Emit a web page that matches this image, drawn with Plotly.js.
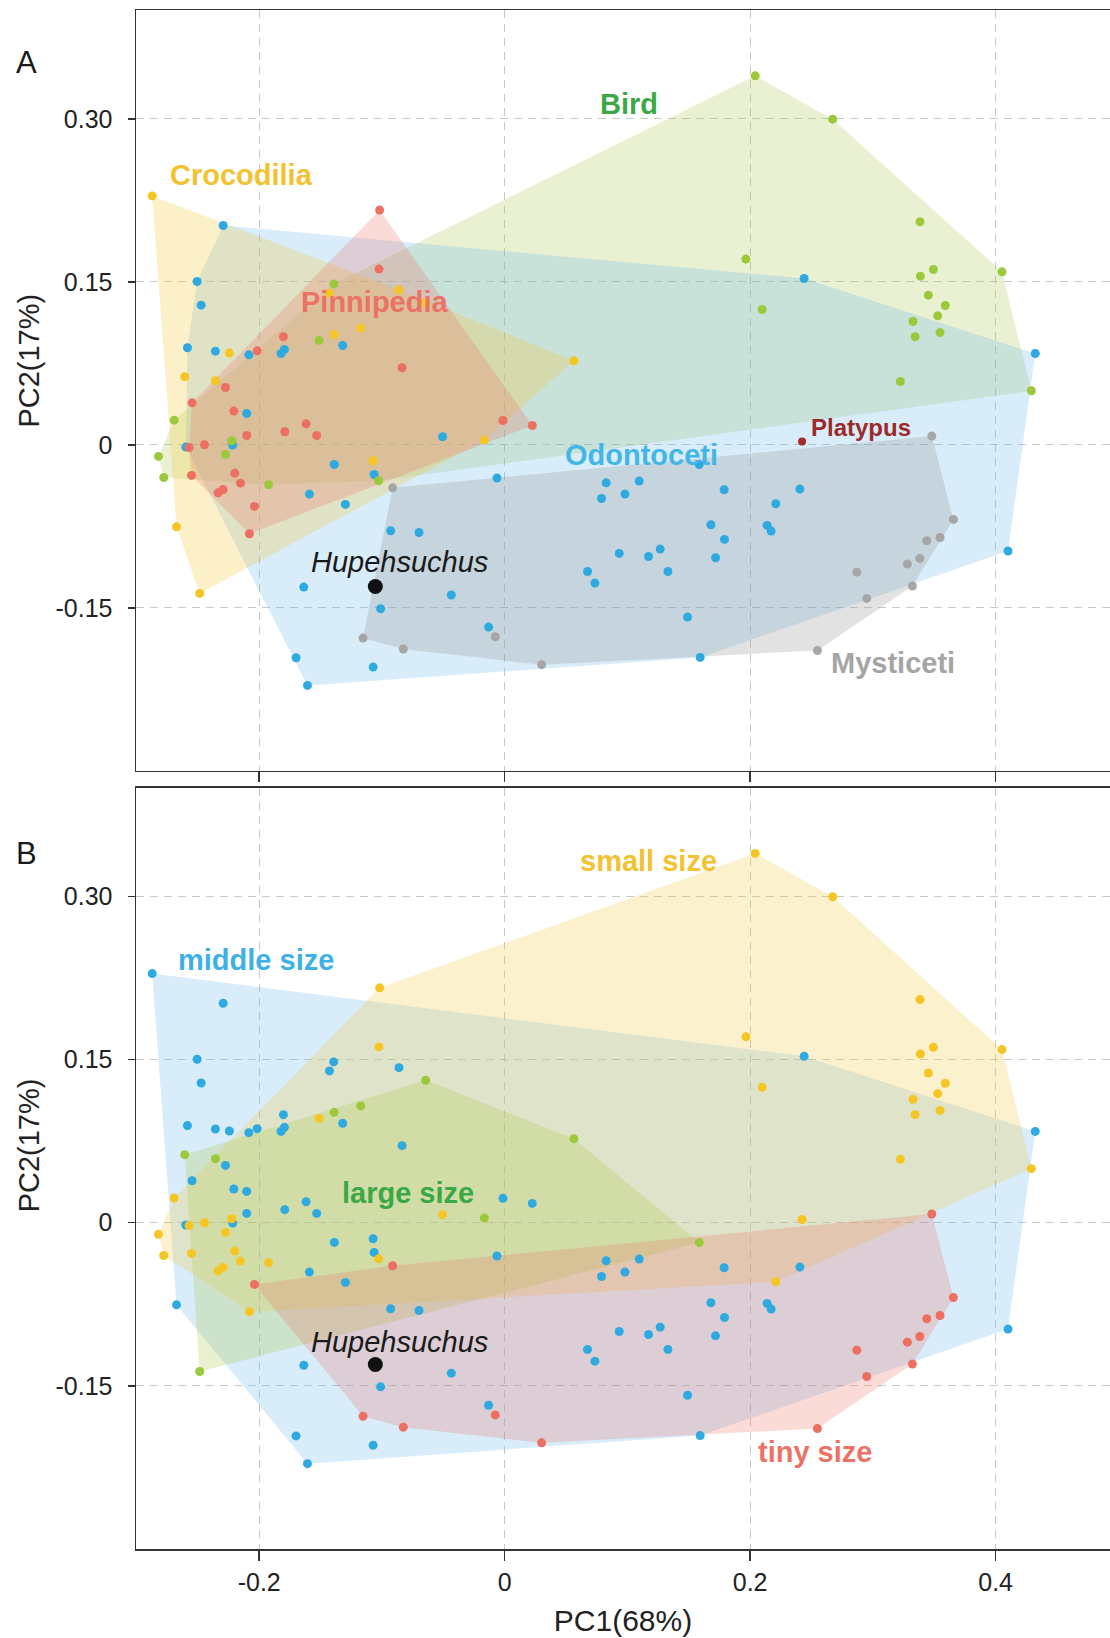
<!DOCTYPE html>
<html><head><meta charset="utf-8">
<script src="https://cdn.plot.ly/plotly-3.0.1.min.js"></script>
<style>html,body{margin:0;padding:0;background:#fff}</style>
</head><body><div id="chart" style="width:1110px;height:1638px"></div>
<script>
// PC scores of each specimen
const pc1 = [
-0.2872,-0.2294,-0.1019,-0.1024,-0.1393,-0.1428,-0.0861,-0.0644,-0.2506,-0.2473,
-0.1803,-0.1512,-0.1390,-0.1173,-0.1320,-0.2585,-0.2357,-0.2243,-0.2085,-0.2017,
-0.1822,-0.1795,-0.0836,-0.2607,-0.2357,-0.2275,0.2041,0.2673,0.1965,0.2440,
0.2098,0.0564,0.3384,0.3493,0.3387,0.4052,0.3452,0.3590,0.3528,0.3327,
0.3547,0.3344,0.4323,0.3224,0.4291,-0.2547,-0.2207,-0.2102,-0.2693,-0.1792,
-0.1618,-0.1532,-0.2102,-0.2598,-0.2571,-0.2446,-0.2224,-0.2216,-0.2821,-0.2275,
-0.2778,-0.2552,-0.2199,-0.2153,-0.2335,-0.2294,-0.1923,-0.2039,-0.2080,-0.2674,
-0.2485,-0.1388,-0.1072,-0.1064,-0.1027,-0.0913,-0.1591,-0.1298,-0.0506,-0.0166,
-0.0014,-0.0063,-0.0929,-0.0698,-0.1637,-0.0435,-0.1011,-0.0131,-0.1154,-0.0077,
-0.0826,-0.1700,-0.1072,-0.1607,0.0225,0.2423,0.1585,0.0827,0.1096,0.0789,
0.0980,0.1788,0.2405,0.2209,0.1680,0.2138,0.2171,0.1791,0.0933,0.1172,
0.1267,0.1718,0.0675,0.1330,0.0735,0.1490,0.1593,0.0301,0.2548,0.3480,
0.3656,0.3547,0.3439,0.3382,0.3281,0.2869,0.3322,0.2950,0.4101];
const pc2 = [
0.2291,0.2018,0.2160,0.1617,0.1479,0.1396,0.1426,0.1310,0.1503,0.1285,
0.0994,0.0960,0.1015,0.1074,0.0914,0.0893,0.0862,0.0844,0.0828,0.0865,
0.0840,0.0877,0.0709,0.0626,0.0589,0.0527,0.3396,0.2997,0.1709,0.1531,
0.1245,0.0773,0.2052,0.1613,0.1552,0.1592,0.1377,0.1282,0.1187,0.1135,
0.1033,0.0994,0.0840,0.0583,0.0497,0.0386,0.0310,0.0288,0.0227,0.0120,
0.0193,0.0086,0.0086,-0.0021,-0.0025,0.0000,0.0037,-0.0003,-0.0107,-0.0089,
-0.0301,-0.0282,-0.0261,-0.0353,-0.0442,-0.0411,-0.0368,-0.0567,-0.0819,-0.0755,
-0.1368,-0.0181,-0.0147,-0.0273,-0.0331,-0.0396,-0.0454,-0.0549,0.0074,0.0043,
0.0224,-0.0306,-0.0791,-0.0807,-0.1310,-0.1383,-0.1509,-0.1678,-0.1779,-0.1767,
-0.1880,-0.1960,-0.2046,-0.2215,0.0178,0.0030,-0.0181,-0.0350,-0.0334,-0.0494,
-0.0454,-0.0414,-0.0408,-0.0543,-0.0736,-0.0742,-0.0794,-0.0871,-0.1000,-0.1028,
-0.0960,-0.1040,-0.1166,-0.1166,-0.1273,-0.1586,-0.1957,-0.2024,-0.1893,0.0080,
-0.0687,-0.0853,-0.0883,-0.1046,-0.1098,-0.1172,-0.1300,-0.1414,-0.0978];
// Panel A grouping: C=Crocodilia, P=Pinnipedia, B=Bird, O=Odontoceti, M=Mysticeti, Y=Platypus
const cladeA = [
'C','O','P','P','B','C','C','C','O','O',
'P','B','C','C','O','O','O','C','O','P',
'O','O','P','C','C','P','B','B','B','O',
'B','C','B','B','B','B','B','B','B','B',
'B','B','O','B','B','P','P','O','B','P',
'P','P','P','O','P','P','B','O','B','B',
'B','P','P','P','P','P','B','P','P','C',
'C','O','C','O','B','M','O','O','O','C',
'P','O','O','O','O','O','O','O','M','M',
'M','O','O','O','P','Y','O','O','O','O',
'O','O','O','O','O','O','O','O','O','O',
'O','O','O','O','O','O','O','M','M','M',
'M','M','M','M','M','M','M','M','O'];
// Panel B grouping: s=small, m=middle, l=large, t=tiny
const sizeB = [
'm','m','s','s','m','m','m','l','m','m',
'm','s','l','l','m','m','m','m','m','m',
'm','m','m','l','l','m','s','s','s','m',
's','l','s','s','s','s','s','s','s','s',
's','s','m','s','s','m','m','m','s','m',
'm','m','m','m','s','s','s','m','s','s',
's','s','s','s','s','s','s','t','s','m',
'l','m','m','m','s','t','m','m','s','l',
'm','m','m','m','m','m','m','m','t','t',
't','m','m','m','m','s','l','m','m','m',
'm','m','m','s','m','m','m','m','m','m',
'm','m','m','m','m','m','m','t','t','t',
't','t','t','t','t','t','t','t','m'];
const hupehPC1 = [-0.1054];
const hupehPC2 = [-0.1304];
const xTickVals = [-0.2, 0, 0.2, 0.4];
const xTickText = ['-0.2', '0', '0.2', '0.4'];
const yTickVals = [0.30, 0.15, 0, -0.15];
const yTickText = ['0.30', '0.15', '0', '-0.15'];
const xTitle = 'PC1(68%)';
const yTitle = 'PC2(17%)';

const FONT = 'Liberation Sans, Arial, Helvetica, sans-serif';
const groupsA = [
  {code:'B', name:'Bird',       dot:'#9cc93c', fill:'rgba(172,200,80,0.25)',  hull:true, label:'#3aa845', lx:0.1012, ly:0.3138},
  {code:'O', name:'Odontoceti', dot:'#2eaae1', fill:'rgba(100,180,235,0.25)', hull:true, label:'#44b6e6', lx:0.1118, ly:-0.0092},
  {code:'C', name:'Crocodilia', dot:'#f5c623', fill:'rgba(245,200,60,0.28)',  hull:true, label:'#f2c230', lx:-0.2141, ly:0.2480},
  {code:'P', name:'Pinnipedia', dot:'#ec6f62', fill:'rgba(235,110,100,0.25)', hull:true, label:'#eb7265', lx:-0.1054, ly:0.1316},
  {code:'M', name:'Mysticeti',  dot:'#a6a6a6', fill:'rgba(150,150,150,0.28)', hull:true, label:'#a5a5a5', lx:0.3160, ly:-0.2006},
  {code:'Y', name:'Platypus',   dot:'#a52a2a', fill:null, hull:false, label:'#9b2b2b', lx:0.2480, ly:0.0160, left:true, fs:24}
];
const groupsB = [
  {code:'m', name:'middle size', dot:'#2eaae1', fill:'rgba(100,180,235,0.25)', label:'#3db1e5', lx:-0.2023, ly:0.2416},
  {code:'s', name:'small size',  dot:'#f5c623', fill:'rgba(245,200,60,0.26)',  label:'#f2c230', lx:0.1175, ly:0.3327},
  {code:'l', name:'large size',  dot:'#9cc93c', fill:'rgba(172,200,80,0.28)',  label:'#3aa845', lx:-0.0789, ly:0.0271},
  {code:'t', name:'tiny size',   dot:'#ec6f62', fill:'rgba(235,110,100,0.25)', label:'#eb7265', lx:0.2529, ly:-0.2112}
];

function hull(pts){
  pts = pts.slice().sort((a,b)=>a[0]-b[0]||a[1]-b[1]);
  const cross=(o,a,b)=>(a[0]-o[0])*(b[1]-o[1])-(a[1]-o[1])*(b[0]-o[0]);
  const lo=[]; for(const p of pts){while(lo.length>=2&&cross(lo[lo.length-2],lo[lo.length-1],p)<=0)lo.pop();lo.push(p);}
  const up=[]; for(let i=pts.length-1;i>=0;i--){const p=pts[i];while(up.length>=2&&cross(up[up.length-2],up[up.length-1],p)<=0)up.pop();up.push(p);}
  lo.pop(); up.pop(); return lo.concat(up);
}
function pointsOf(labels, code){
  const out=[]; labels.forEach((c,i)=>{ if(c===code) out.push([pc1[i],pc2[i]]); }); return out;
}

const traces = [];
const annotations = [];
function addPanel(labels, groups, xa, ya, markerOrder){
  groups.forEach(g=>{
    if(g.hull===false) return;
    const h = hull(pointsOf(labels, g.code));
    traces.push({type:'scatter', mode:'lines', x:h.map(p=>p[0]).concat([h[0][0]]), y:h.map(p=>p[1]).concat([h[0][1]]),
      fill:'toself', fillcolor:g.fill, line:{width:0, color:'rgba(0,0,0,0)'}, xaxis:xa, yaxis:ya, hoverinfo:'skip', showlegend:false});
  });
  markerOrder.forEach(code=>{
    const g = groups.find(q=>q.code===code);
    const pts = pointsOf(labels, code);
    traces.push({type:'scatter', mode:'markers', name:g.name, x:pts.map(p=>p[0]), y:pts.map(p=>p[1]),
      marker:{size: code==='Y'?8:9, color:g.dot, line:{width:0}}, xaxis:xa, yaxis:ya, showlegend:false});
  });
  traces.push({type:'scatter', mode:'markers', name:'Hupehsuchus', x:hupehPC1, y:hupehPC2,
    marker:{size:15, color:'#111', line:{width:0}}, xaxis:xa, yaxis:ya, showlegend:false});
  const xr = xa==='x'?'x':'x2', yr = ya==='y'?'y':'y2';
  groups.forEach(g=>{
    annotations.push({xref:xr, yref:yr, x:g.lx, y:g.ly, text:'<b>'+g.name+'</b>', showarrow:false,
      xanchor:g.left?'left':'center', yanchor:'middle', font:{family:FONT, size:g.fs||29, color:g.label}});
  });
  annotations.push({xref:xr, yref:yr, x:-0.0855, y:(ya==='y'?-0.1075:-0.1100), text:'<i>Hupehsuchus</i>', showarrow:false,
    xanchor:'center', yanchor:'middle', font:{family:FONT, size:29, color:'#1a1a1a'}});
}
addPanel(cladeA, groupsA, 'x', 'y', ['O','C','P','B','M','Y']);
addPanel(sizeB, groupsB, 'x2', 'y2', ['m','s','l','t']);

annotations.push({xref:'paper', yref:'paper', x:-0.1124, y:0.9657, text:'A', showarrow:false, xanchor:'center', yanchor:'middle', font:{family:FONT, size:31, color:'#1a1a1a'}});
annotations.push({xref:'paper', yref:'paper', x:-0.1124, y:0.4521, text:'B', showarrow:false, xanchor:'center', yanchor:'middle', font:{family:FONT, size:31, color:'#1a1a1a'}});
// y-axis titles (placed above each panel's centre, as in the original)
annotations.push({xref:'paper', yref:'paper', x:-0.1103, y:0.7719, text:yTitle, textangle:-90, showarrow:false, xanchor:'center', yanchor:'middle', font:{family:FONT, size:29, color:'#222'}});
annotations.push({xref:'paper', yref:'paper', x:-0.1103, y:0.2620, text:yTitle, textangle:-90, showarrow:false, xanchor:'center', yanchor:'middle', font:{family:FONT, size:29, color:'#222'}});

const axBase = {showgrid:true, gridcolor:'#c8c8c8', griddash:'8px,6px', gridwidth:1, zeroline:false,
  showline:true, linecolor:'#333', linewidth:1.5, ticks:'outside', tickcolor:'#333', tickwidth:1.5,
  tickfont:{family:FONT, size:25, color:'#222'}, automargin:false};
const xRange = [-0.3004, 0.4932], yRange = [-0.3000, 0.4002];
const layout = {
  width:1110, height:1638, paper_bgcolor:'#fff', plot_bgcolor:'#fff',
  margin:{l:135.5, r:0, t:10, b:89.4}, font:{family:FONT},
  xaxis: Object.assign({}, axBase, {domain:[0,1], range:xRange, tickmode:'array', tickvals:xTickVals, ticktext:xTickText, showticklabels:false, ticklen:10, mirror:true, anchor:'y'}),
  yaxis: Object.assign({}, axBase, {domain:[0.5057,1], range:yRange, tickmode:'array', tickvals:yTickVals, ticktext:yTickText, ticklen:7, ticklabelstandoff:10, anchor:'x'}),
  xaxis2: Object.assign({}, axBase, {domain:[0,1], range:xRange, tickmode:'array', tickvals:xTickVals, ticktext:xTickText, ticklen:10, mirror:true, anchor:'y2',
    title:{text:xTitle, font:{family:FONT, size:30, color:'#222'}, standoff:15}}),
  yaxis2: Object.assign({}, axBase, {domain:[0,0.4948], range:yRange, tickmode:'array', tickvals:yTickVals, ticktext:yTickText, ticklen:7, ticklabelstandoff:10, anchor:'x2'}),
  annotations: annotations
};
Plotly.newPlot('chart', traces, layout, {displayModeBar:false, staticPlot:true});
</script></body></html>
